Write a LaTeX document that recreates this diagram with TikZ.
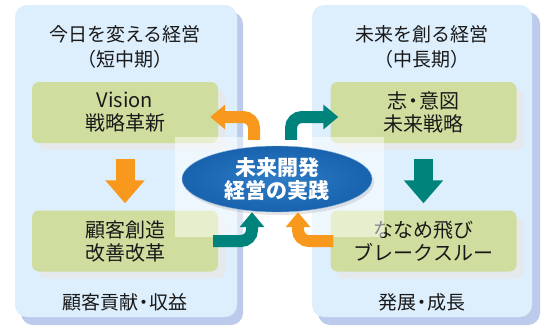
\documentclass[tikz,border=0pt]{standalone}
\usepackage{fontspec}
\setmainfont{Noto Sans CJK JP}
\usetikzlibrary{arrows.meta,shapes.geometric,shadows}
\definecolor{panelblue}{HTML}{DDEEFD}
\definecolor{panelshadow}{HTML}{BCCBEC}
\definecolor{boxgreen}{HTML}{CFDE9E}
\definecolor{boxshadow}{HTML}{E6E9EC}
\definecolor{arroworange}{HTML}{F8981D}
\definecolor{arrowteal}{HTML}{00837A}
\definecolor{coreblue}{HTML}{1862AE}
\definecolor{corelight}{HTML}{2F7CC6}
\newcommand\nakaten{\kern-.22em・\kern-.22em}

\begin{document}
\begin{tikzpicture}[x=1pt, y=-1pt,
    heading/.style={font=\fontsize{19}{25}\selectfont, align=center, text=black!90},
    stage/.style={fill=boxgreen, rounded corners=7pt, minimum width=186pt, minimum height=61pt,
                  align=center, font=\fontsize{20}{23}\selectfont, text=black!90,
                  drop shadow={shadow xshift=7pt, shadow yshift=-7pt, fill=boxshadow, opacity=1}},
    core/.style={ellipse, shade, inner color=corelight, outer color=coreblue, draw=corelight!60!white,
                 minimum width=190pt, minimum height=66pt, inner sep=0pt, align=center,
                 font=\fontsize{21}{23}\selectfont\bfseries, text=white,
                 drop shadow={shadow xshift=2pt, shadow yshift=-3pt, opacity=0.2}},
    godown/.style={line width=19pt, -{Triangle[length=23pt, width=38pt]}, shorten <=16pt, shorten >=7pt},
    turn/.style={line width=12pt, rounded corners=11pt, -{Triangle[length=15pt, width=24pt]}}]
    \useasboundingbox (0,0) rectangle (541,327);

    \fill [panelshadow, rounded corners=12pt] (21,12) rectangle (243,325);
    \fill [panelblue, rounded corners=12pt] (15,5) rectangle (237,317);
    \fill [panelshadow, rounded corners=12pt] (318,12) rectangle (540,325);
    \fill [panelblue, rounded corners=12pt] (312,5) rectangle (532,317);

    \node [heading] (todaytitle) at (125,47) {今日を変える経営\\（短中期）};
    \node [stage] (vision) at (125,112.5) {Vision\\戦略革新};
    \node [stage] (customer) at (125,241) {顧客創造\\改善改革};
    \node [heading] (todaygoal) at (125,302) {顧客貢献\nakaten 収益};

    \node [heading] (futuretitle) at (422,47) {未来を創る経営\\（中長期）};
    \node [stage] (strategy) at (423.5,112.5) {志\nakaten 意図\\未来戦略};
    \node [stage] (breakthrough) at (423.5,241) {ななめ飛び\\ブレークスルー};
    \node [heading] (futuregoal) at (422,302) {発展\nakaten 成長};

    \fill [white, opacity=0.5] (175,137) rectangle (384,237);

    \draw [godown, arroworange] (vision) -- (customer);
    \draw [godown, arrowteal] (strategy) -- (breakthrough);

    \node [core] (core) at (277,179) {未来開発\\経営の実践};

    \draw [turn, arroworange] ([xshift=-23pt, yshift=6pt]core.north) |- ([xshift=-8pt, yshift=-4.5pt]vision.east);
    \draw [turn, arrowteal] ([xshift=14pt, yshift=6pt]core.north) |- ([xshift=8pt, yshift=-4.5pt]strategy.west);
    \draw [turn, arrowteal] ([xshift=-5pt]customer.east) -| ([xshift=-25pt]core.south);
    \draw [turn, arroworange] ([xshift=3pt]breakthrough.west) -| ([xshift=21pt]core.south);

\end{tikzpicture}
\end{document}
